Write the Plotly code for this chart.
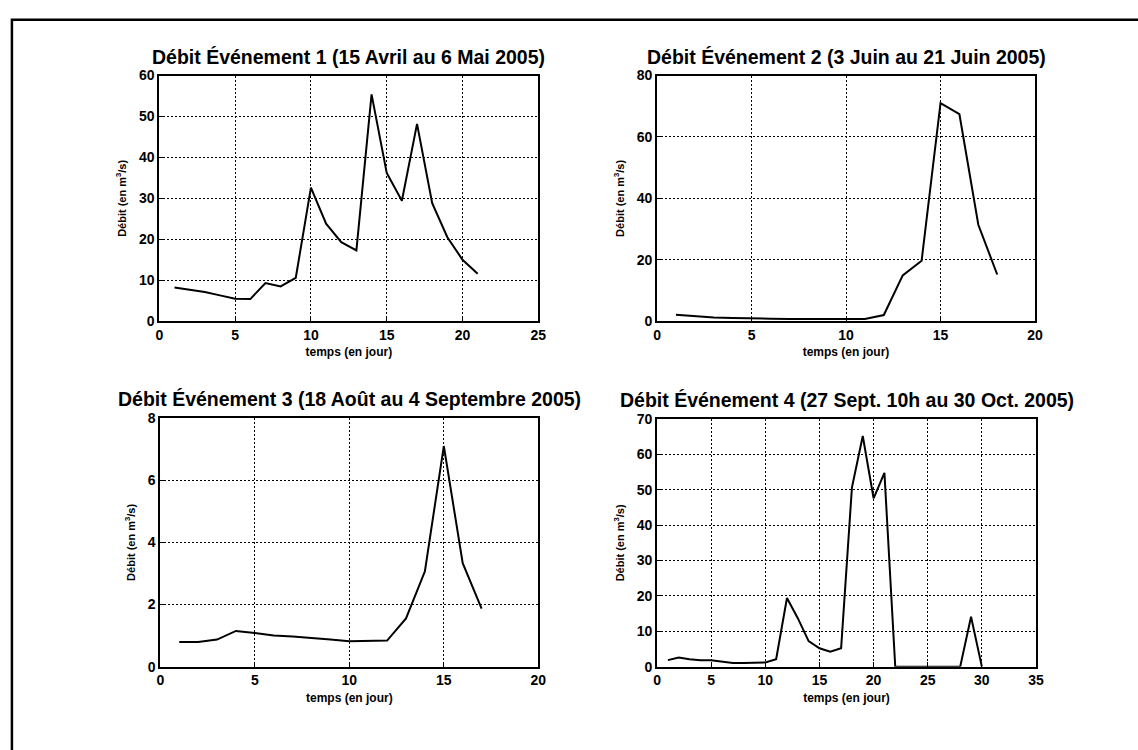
import plotly.graph_objects as go

# ---------------- data ----------------
t1 = list(range(1, 22))
q1 = [8.2, 7.7, 7.1, 6.3, 5.5, 5.4, 9.3, 8.5, 10.6, 32.6, 23.8, 19.3, 17.3,
      55.4, 36.2, 29.4, 48.2, 28.8, 20.5, 15.0, 11.6]

t2 = list(range(1, 19))
q2 = [2.1, 1.6, 1.2, 1.0, 1.0, 0.8, 0.7, 0.7, 0.7, 0.7, 0.7, 2.0, 14.9,
      19.7, 71.0, 67.4, 31.4, 15.2]

t3 = list(range(1, 18))
q3 = [0.79, 0.79, 0.87, 1.15, 1.08, 1.0, 0.97, 0.93, 0.87, 0.82, 0.84, 0.84,
      1.55, 3.07, 7.1, 3.33, 1.87]

t4 = list(range(1, 31))
q4 = [1.85, 2.6, 2.1, 1.8, 1.8, 1.5, 1.0, 1.0, 1.2, 1.2, 2.1, 19.4, 13.7,
      7.2, 5.2, 4.2, 5.2, 50.6, 65.2, 47.6, 54.8, 0, 0, 0, 0, 0, 0, 0, 14.1, 0]

titles = ["Débit Événement 1 (15 Avril au 6 Mai 2005)",
          "Débit Événement 2 (3 Juin au 21 Juin 2005)",
          "Débit Événement 3 (18 Août au 4 Septembre 2005)",
          "Débit Événement 4 (27 Sept. 10h au 30 Oct. 2005)"]
xlabel = "temps (en jour)"
ylabel = "Débit (en m<sup>3</sup>/s)"

xranges = [[0, 25], [0, 20], [0, 20], [0, 35]]
yranges = [[0, 60], [0, 80], [0, 8], [0, 70]]
ydticks = [10, 20, 2, 10]

# ---------------- layout ----------------
W, H = 1138, 750
def px_x(v): return v / W
def px_y(v): return 1 - v / H

xdoms = [[px_x(157), px_x(540)], [px_x(660), px_x(1042)],
         [px_x(158), px_x(540)], [px_x(660), px_x(1043)]]
ydoms = [[px_y(320), px_y(69)], [px_y(320), px_y(69)],
         [px_y(673), px_y(419)], [px_y(673), px_y(420)]]

FONT = "Liberation Sans"
fig = go.Figure()
series = [(t1, q1), (t2, q2), (t3, q3), (t4, q4)]
layout = dict(width=W, height=H, margin=dict(l=0, r=0, t=0, b=0),
              paper_bgcolor="white", plot_bgcolor="white", showlegend=False,
              font=dict(family=FONT, color="black"))
annotations = []
for i, (t, q) in enumerate(series):
    n = "" if i == 0 else str(i + 1)
    fig.add_trace(go.Scatter(x=t, y=q, mode="lines", xaxis="x" + n, yaxis="y" + n,
                             line=dict(color="black", width=2)))
    common = dict(showline=True, linecolor="black", linewidth=2, mirror=True,
                  ticks="inside", ticklen=5, tickcolor="black",
                  showgrid=True, gridcolor="black", griddash="2px,2px", gridwidth=1.2,
                  zeroline=False,
                  tickfont=dict(family=FONT, size=14, color="black", weight="bold"))
    layout["xaxis" + n] = dict(common, domain=xdoms[i], range=xranges[i], dtick=5,
                               anchor="y" + n,
                               title=dict(text="<b>" + xlabel + "</b>", standoff=6,
                                          font=dict(family=FONT, size=12, color="black")))
    layout["yaxis" + n] = dict(common, domain=ydoms[i], range=yranges[i], dtick=ydticks[i],
                               anchor="x" + n,
                               title=dict(text="<b>" + ylabel + "</b>", standoff=10,
                                          font=dict(family=FONT, size=11, color="black")))
    annotations.append(dict(text="<b>" + titles[i] + "</b>", xref="paper", yref="paper",
                            x=(xdoms[i][0] + xdoms[i][1]) / 2, y=ydoms[i][1] + 19 / H,
                            xanchor="center", yanchor="middle", showarrow=False,
                            font=dict(family=FONT, size=19.5, color="black")))
layout["annotations"] = annotations
layout["shapes"] = [dict(type="rect", xref="paper", yref="paper",
                         x0=px_x(8), x1=1.02, y0=-0.05, y1=px_y(12),
                         line=dict(color="black", width=2.5))]
fig.update_layout(**layout)
fig.write_html("out.html", config={"displayModeBar": False},
               post_script="document.body.style.margin='0';document.body.style.overflow='hidden';")
